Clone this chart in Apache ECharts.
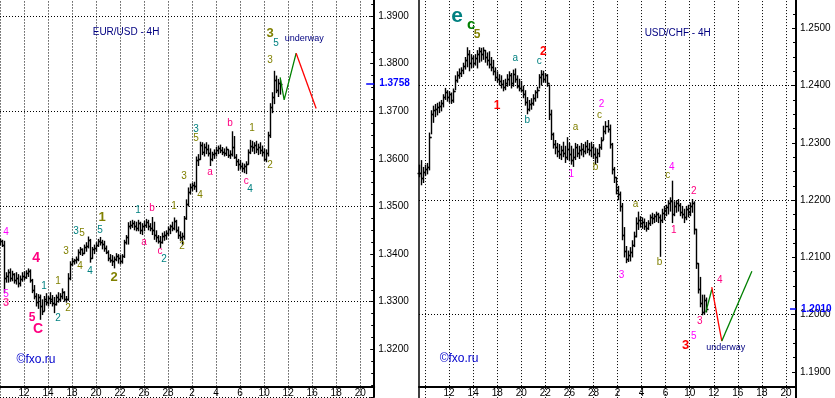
<!DOCTYPE html>
<html>
<head>
<meta charset="utf-8" />
<title>EUR/USD - 4H, USD/CHF - 4H</title>
<script src="https://cdn.jsdelivr.net/npm/echarts@6/dist/echarts.min.js"></script>
<style>
  html, body { margin: 0; padding: 0; background: #fff; }
  #main { width: 835px; height: 398px; }
</style>
</head>
<body>
<div id="main"></div>
<script>
// date labels, one every 12 bars (2 trading days of 4H bars)
var dayLabels = ['', '12', '14', '18', '20', '22', '26', '28', '2', '4', '6', '10', '12', '16', '18', '20'];

// EUR/USD 4H bars, slot 0 .. 140
var eurHigh = [1.3432,1.3430,1.3428,1.3362,1.3368,1.3370,1.3365,1.3360,1.3362,1.3358,
  1.3355,1.3362,1.3364,1.3366,1.3370,1.3368,1.3348,1.3335,1.3318,1.3316,
  1.3315,1.3305,1.3312,1.3318,1.3312,1.3320,1.3314,1.3310,1.3315,1.3320,
  1.3318,1.3328,1.3322,1.3312,1.3360,1.3385,1.3392,1.3390,1.3395,1.3410,
  1.3415,1.3412,1.3420,1.3425,1.3437,1.3432,1.3415,1.3420,1.3425,1.3432,
  1.3436,1.3430,1.3428,1.3418,1.3408,1.3400,1.3398,1.3395,1.3402,1.3400,
  1.3398,1.3400,1.3430,1.3440,1.3467,1.3470,1.3472,1.3470,1.3468,1.3472,
  1.3468,1.3465,1.3470,1.3474,1.3472,1.3465,1.3478,1.3468,1.3450,1.3440,
  1.3438,1.3445,1.3448,1.3450,1.3458,1.3462,1.3468,1.3477,1.3472,1.3458,
  1.3448,1.3445,1.3480,1.3515,1.3540,1.3548,1.3550,1.3552,1.3605,1.3610,
  1.3636,1.3635,1.3632,1.3635,1.3630,1.3622,1.3615,1.3620,1.3625,1.3628,
  1.3630,1.3625,1.3622,1.3626,1.3620,1.3618,1.3658,1.3648,1.3610,1.3600,
  1.3598,1.3592,1.3590,1.3595,1.3620,1.3640,1.3638,1.3635,1.3638,1.3632,
  1.3635,1.3628,1.3622,1.3620,1.3657,1.3717,1.3740,1.3785,1.3775,1.3768,
  1.3765];
var eurLow = [1.3418,1.3415,1.3318,1.3340,1.3340,1.3342,1.3343,1.3338,1.3336,1.3330,
  1.3332,1.3342,1.3345,1.3348,1.3352,1.3340,1.3318,1.3305,1.3290,1.3285,
  1.3262,1.3272,1.3280,1.3292,1.3290,1.3295,1.3290,1.3276,1.3292,1.3298,
  1.3300,1.3305,1.3300,1.3298,1.3302,1.3345,1.3375,1.3378,1.3380,1.3385,
  1.3398,1.3396,1.3400,1.3405,1.3412,1.3382,1.3390,1.3400,1.3405,1.3415,
  1.3418,1.3410,1.3405,1.3400,1.3385,1.3382,1.3375,1.3370,1.3385,1.3380,
  1.3378,1.3380,1.3392,1.3420,1.3420,1.3452,1.3455,1.3450,1.3448,1.3448,
  1.3442,1.3440,1.3448,1.3455,1.3450,1.3448,1.3440,1.3430,1.3425,1.3422,
  1.3413,1.3422,1.3428,1.3430,1.3438,1.3442,1.3448,1.3450,1.3445,1.3432,
  1.3428,1.3420,1.3430,1.3472,1.3500,1.3525,1.3532,1.3535,1.3530,1.3585,
  1.3598,1.3608,1.3605,1.3610,1.3605,1.3585,1.3595,1.3600,1.3605,1.3610,
  1.3612,1.3608,1.3605,1.3606,1.3602,1.3600,1.3605,1.3600,1.3585,1.3575,
  1.3578,1.3572,1.3570,1.3568,1.3588,1.3610,1.3615,1.3610,1.3612,1.3608,
  1.3610,1.3605,1.3595,1.3593,1.3605,1.3644,1.3696,1.3715,1.3738,1.3730,
  1.3735];
var eurClose = [1.3428,1.3420,1.3350,1.3355,1.3362,1.3350,1.3358,1.3345,1.3350,1.3340,
  1.3348,1.3355,1.3352,1.3360,1.3365,1.3345,1.3325,1.3312,1.3300,1.3310,
  1.3290,1.3280,1.3305,1.3300,1.3308,1.3305,1.3298,1.3295,1.3310,1.3305,
  1.3312,1.3320,1.3306,1.3305,1.3350,1.3380,1.3385,1.3388,1.3390,1.3405,
  1.3410,1.3402,1.3415,1.3418,1.3430,1.3392,1.3410,1.3412,1.3420,1.3428,
  1.3425,1.3422,1.3412,1.3405,1.3392,1.3388,1.3385,1.3390,1.3395,1.3392,
  1.3385,1.3395,1.3425,1.3435,1.3460,1.3462,1.3465,1.3458,1.3455,1.3465,
  1.3450,1.3458,1.3462,1.3468,1.3458,1.3455,1.3450,1.3440,1.3435,1.3428,
  1.3425,1.3438,1.3440,1.3445,1.3452,1.3458,1.3455,1.3470,1.3450,1.3440,
  1.3435,1.3438,1.3475,1.3505,1.3530,1.3540,1.3545,1.3542,1.3598,1.3600,
  1.3630,1.3615,1.3625,1.3620,1.3612,1.3600,1.3610,1.3612,1.3618,1.3622,
  1.3618,1.3615,1.3612,1.3620,1.3608,1.3610,1.3625,1.3605,1.3595,1.3590,
  1.3585,1.3580,1.3585,1.3590,1.3615,1.3628,1.3625,1.3630,1.3620,1.3625,
  1.3618,1.3615,1.3600,1.3612,1.3650,1.3710,1.3730,1.3765,1.3745,1.3760,
  1.3758];

// USD/CHF 4H bars, slot -3 .. 140
var chfFirst = -3;
var chfHigh = [1.2262,1.2270,1.2258,
  1.2262,1.2265,1.2318,1.2357,1.2365,1.2368,1.2370,1.2372,1.2375,1.2385,
  1.2396,1.2392,1.2390,1.2388,1.2395,1.2418,1.2425,1.2430,1.2432,1.2440,
  1.2450,1.2467,1.2462,1.2455,1.2452,1.2455,1.2462,1.2467,1.2466,1.2467,
  1.2462,1.2458,1.2460,1.2450,1.2445,1.2432,1.2425,1.2420,1.2418,1.2410,
  1.2412,1.2420,1.2425,1.2422,1.2428,1.2430,1.2418,1.2412,1.2408,1.2400,
  1.2392,1.2380,1.2375,1.2378,1.2385,1.2392,1.2398,1.2420,1.2427,1.2426,
  1.2422,1.2420,1.2402,1.2358,1.2318,1.2305,1.2300,1.2298,1.2295,1.2302,
  1.2295,1.2310,1.2300,1.2295,1.2290,1.2300,1.2298,1.2295,1.2300,1.2298,
  1.2302,1.2305,1.2300,1.2302,1.2298,1.2292,1.2290,1.2298,1.2310,1.2330,
  1.2338,1.2340,1.2332,1.2300,1.2258,1.2240,1.2225,1.2215,1.2195,1.2153,
  1.2120,1.2112,1.2118,1.2130,1.2145,1.2170,1.2180,1.2172,1.2170,1.2168,
  1.2162,1.2165,1.2175,1.2178,1.2176,1.2180,1.2178,1.2175,1.2185,1.2190,
  1.2192,1.2200,1.2205,1.2234,1.2198,1.2200,1.2202,1.2195,1.2190,1.2185,
  1.2190,1.2192,1.2196,1.2202,1.2198,1.2150,1.2090,1.2066,1.2035,1.2035,
  1.2030];
var chfLow = [1.2240,1.2226,1.2230,
  1.2242,1.2245,1.2252,1.2315,1.2335,1.2345,1.2348,1.2352,1.2355,1.2362,
  1.2375,1.2372,1.2370,1.2368,1.2370,1.2392,1.2405,1.2412,1.2415,1.2420,
  1.2428,1.2432,1.2425,1.2430,1.2432,1.2435,1.2430,1.2440,1.2442,1.2445,
  1.2440,1.2435,1.2430,1.2425,1.2418,1.2408,1.2405,1.2400,1.2395,1.2390,
  1.2392,1.2398,1.2400,1.2395,1.2398,1.2405,1.2395,1.2390,1.2388,1.2378,
  1.2365,1.2350,1.2355,1.2358,1.2365,1.2372,1.2378,1.2395,1.2400,1.2405,
  1.2405,1.2398,1.2340,1.2305,1.2290,1.2280,1.2275,1.2272,1.2270,1.2275,
  1.2265,1.2270,1.2268,1.2262,1.2258,1.2270,1.2275,1.2272,1.2278,1.2275,
  1.2280,1.2282,1.2278,1.2275,1.2272,1.2262,1.2265,1.2275,1.2288,1.2305,
  1.2315,1.2318,1.2290,1.2245,1.2230,1.2210,1.2200,1.2180,1.2130,1.2100,
  1.2090,1.2092,1.2093,1.2100,1.2118,1.2135,1.2148,1.2152,1.2150,1.2148,
  1.2145,1.2148,1.2155,1.2158,1.2160,1.2162,1.2160,1.2101,1.2160,1.2165,
  1.2172,1.2175,1.2180,1.2160,1.2172,1.2178,1.2180,1.2172,1.2168,1.2160,
  1.2165,1.2170,1.2172,1.2178,1.2140,1.2080,1.2037,1.2013,1.1999,1.2000,
  1.2004];
var chfClose = [1.2248,1.2238,1.2250,
  1.2255,1.2258,1.2310,1.2350,1.2358,1.2360,1.2362,1.2365,1.2370,1.2380,
  1.2388,1.2380,1.2385,1.2375,1.2390,1.2410,1.2418,1.2422,1.2428,1.2435,
  1.2445,1.2455,1.2440,1.2448,1.2440,1.2448,1.2455,1.2460,1.2455,1.2462,
  1.2450,1.2445,1.2438,1.2432,1.2425,1.2415,1.2412,1.2408,1.2402,1.2398,
  1.2405,1.2412,1.2418,1.2405,1.2420,1.2412,1.2400,1.2395,1.2392,1.2385,
  1.2372,1.2360,1.2368,1.2370,1.2378,1.2388,1.2392,1.2415,1.2420,1.2412,
  1.2418,1.2405,1.2350,1.2315,1.2298,1.2292,1.2285,1.2280,1.2288,1.2282,
  1.2275,1.2290,1.2280,1.2270,1.2275,1.2292,1.2282,1.2288,1.2290,1.2285,
  1.2295,1.2290,1.2288,1.2292,1.2280,1.2275,1.2282,1.2292,1.2305,1.2320,
  1.2330,1.2325,1.2298,1.2255,1.2240,1.2218,1.2210,1.2190,1.2140,1.2112,
  1.2098,1.2105,1.2110,1.2122,1.2138,1.2160,1.2165,1.2160,1.2162,1.2155,
  1.2152,1.2160,1.2170,1.2168,1.2172,1.2175,1.2170,1.2165,1.2178,1.2182,
  1.2188,1.2195,1.2198,1.2175,1.2190,1.2195,1.2192,1.2180,1.2175,1.2170,
  1.2185,1.2180,1.2190,1.2195,1.2150,1.2090,1.2045,1.2020,1.2005,1.2025,
  1.2010];

// wave counts and notes: [slot, price, text, style]
var eurMarks = [
  [135, 1.3864, '3', 'O'], [138, 1.3843, '5', 't'], [135, 1.3808, '3', 'o'],
  [98, 1.3663, '3', 't'], [98, 1.3643, '5', 'o'], [115, 1.3675, 'b', 'p'],
  [126, 1.3664, '1', 'o'], [105, 1.3571, 'a', 'p'], [123, 1.3554, 'c', 'p'],
  [125, 1.3537, '4', 't'], [135, 1.3586, '2', 'o'], [92, 1.3563, '3', 'o'],
  [100, 1.3524, '4', 'o'], [3, 1.3446, '4', 'm'], [3, 1.3316, '5', 'm'],
  [3, 1.3298, '3', 'm2'], [18, 1.3391, '4', 'P'], [16, 1.3267, '5', 'Ps'],
  [19, 1.3242, 'C', 'P'], [22, 1.3333, '1', 't'], [29, 1.3344, '1', 'o'],
  [29, 1.3265, '2', 't'], [34, 1.3287, '2', 'o'], [33, 1.3407, '3', 'o'],
  [38, 1.3449, '3', 't'], [41, 1.3444, '5', 'o'], [40, 1.3375, '4', 'o'],
  [45, 1.3365, '4', 't'], [50, 1.3451, '5', 't'], [51, 1.3477, '1', 'O'],
  [57, 1.3351, '2', 'O'], [69, 1.3493, '1', 't'], [76, 1.3496, 'b', 'p'],
  [87, 1.3500, '1', 'o'], [72, 1.3425, 'a', 'p'], [80, 1.3405, 'c', 'p'],
  [82, 1.3389, '2', 't'], [91, 1.3417, '2', 'o'],
  [63, 1.3867, 'EUR/USD - 4H', 'n'], [152, 1.3852, 'underway', 'u'],
  [18, 1.3179, '©fxo.ru', 'f']
];
var chfMarks = [
  [16, 1.2522, 'e', 'T'], [23, 1.2506, 'c', 'g'], [26, 1.2489, '5', 'O2'],
  [45, 1.2448, 'a', 't'], [59, 1.2460, '2', 'r'], [57, 1.2442, 'c', 't'],
  [36, 1.2365, '1', 'r'], [51, 1.2339, 'b', 't'], [75, 1.2328, 'a', 'o'],
  [87, 1.2349, 'c', 'o'], [88, 1.2367, '2', 'm'], [73, 1.2245, '1', 'm'],
  [85, 1.2257, 'b', 'o'], [121, 1.2243, 'c', 'o'], [123, 1.2258, '4', 'm'],
  [134, 1.2215, '2', 'p'], [105, 1.2193, 'a', 'o'], [124, 1.2148, '1', 'p'],
  [117, 1.2092, 'b', 'o'], [98, 1.2069, '3', 'm'], [147, 1.2061, '4', 'p'],
  [137, 1.1989, '3', 'p'], [134, 1.1962, '5', 'm'], [130, 1.1946, '3', 'R'],
  [126, 1.2491, 'USD/CHF - 4H', 'n'], [150, 1.1942, 'underway', 'u'],
  [17, 1.1924, '©fxo.ru', 'f']
];

// projected paths [slot, price]
var eurWaveUp = [[140, 1.3771], [142, 1.3724], [148, 1.3822]];
var eurWaveDown = [[148, 1.3822], [158, 1.3706]];
var chfWaveUp1 = [[140, 1.2004], [143, 1.2044]];
var chfWaveDown = [[143, 1.2048], [148, 1.1954]];
var chfWaveUp2 = [[148, 1.1954], [163, 1.2076]];

var FONT = "'Liberation Sans', Arial, sans-serif";
var AXIS_FONT = "'Liberation Sans Narrow', 'Liberation Sans', Arial, sans-serif";
var markStyles = {
  o: { color: '#808000', font: '10px ' + FONT },
  O: { color: '#808000', font: 'bold 13px ' + FONT },
  O2: { color: '#808000', font: 'bold 12px ' + FONT },
  t: { color: '#008080', font: '10px ' + FONT },
  T: { color: '#008080', font: 'bold 21px ' + FONT },
  m: { color: '#FF00FF', font: '10px ' + FONT },
  m2: { color: '#FF3399', font: 'bold 11px ' + FONT },
  p: { color: '#FF0080', font: '10px ' + FONT },
  P: { color: '#FF0080', font: 'bold 14px ' + FONT },
  Ps: { color: '#FF0080', font: 'bold 12px ' + FONT },
  r: { color: '#FF0000', font: 'bold 12px ' + FONT },
  R: { color: '#FF0000', font: 'bold 13px ' + FONT },
  g: { color: '#008000', font: 'bold 15px ' + FONT },
  n: { color: '#000080', font: '10px ' + FONT },
  u: { color: '#000080', font: '9px ' + FONT },
  f: { color: '#0000CC', font: '12px ' + FONT }
};

function slotNames(first, last) {
  var out = [];
  for (var s = first; s <= last; s++) out.push(String(s));
  return out;
}

function ohlcData(high, low, close) {
  return close.map(function (c, i) {
    var o = i > 0 ? close[i - 1] : c;
    return [i, o, high[i], low[i], c];
  });
}

function renderBar(params, api) {
  var x = api.value(0);
  var hi = api.coord([x, api.value(2)]);
  var lo = api.coord([x, api.value(3)]);
  var op = api.coord([x, api.value(1)]);
  var cl = api.coord([x, api.value(4)]);
  var cx = Math.round(hi[0]) + 0.5;
  var oy = Math.round(op[1]) + 0.5;
  var cy = Math.round(cl[1]) + 0.5;
  var st = { stroke: '#000', lineWidth: 1.4 };
  return {
    type: 'group',
    children: [
      { type: 'line', shape: { x1: cx, y1: hi[1], x2: cx, y2: lo[1] }, style: st },
      { type: 'line', shape: { x1: cx - 2, y1: oy, x2: cx, y2: oy }, style: st },
      { type: 'line', shape: { x1: cx, y1: cy, x2: cx + 2, y2: cy }, style: st }
    ]
  };
}

function markRenderer(list) {
  return function (params, api) {
    var item = list[params.dataIndex];
    var p = api.coord([api.value(0), api.value(1)]);
    var st = markStyles[item[3]];
    return {
      type: 'text', x: p[0], y: p[1],
      style: { text: item[2], fill: st.color, font: st.font, align: 'center', verticalAlign: 'middle' }
    };
  };
}

function shift(list, off) {
  return list.map(function (d) { return [d[0] - off, d[1]]; });
}

function xAxisFor(grid, first, last, offset) {
  return {
    type: 'category', gridIndex: grid, boundaryGap: false,
    data: slotNames(first, last), offset: offset,
    axisLine: { lineStyle: { color: '#000', width: 2 } },
    axisTick: { show: false },
    axisLabel: {
      interval: function (i, v) { return +v % 12 === 0; },
      formatter: function (v) { var s = +v; return s > 0 && s % 12 === 0 ? (dayLabels[s / 12] || '') : ''; },
      color: '#000', fontSize: 10, fontFamily: AXIS_FONT, margin: 2
    },
    splitLine: {
      show: true,
      interval: function (i, v) { return +v % 12 === 0; },
      lineStyle: { color: '#000', width: 1, type: [1, 2] }
    }
  };
}

function priceAxis(grid, min, max) {
  return {
    type: 'value', gridIndex: grid, position: 'right', min: min, max: max, interval: 0.01,
    axisLine: { show: true, lineStyle: { color: '#000', width: 2 } },
    axisTick: { show: true, inside: true, length: 4, lineStyle: { color: '#000' } },
    minorTick: { show: true, splitNumber: 4, length: 3, lineStyle: { color: '#000' } },
    axisLabel: {
      formatter: function (v) { return v.toFixed(4); }, showMinLabel: false, showMaxLabel: false,
      color: '#000', fontSize: 10, fontFamily: AXIS_FONT, margin: 4
    },
    splitLine: { show: false }
  };
}

function gridAxis(grid, min, max, border) {
  return {
    type: 'value', gridIndex: grid, position: 'left', min: min, max: max, interval: 0.02,
    axisLine: { show: border, lineStyle: { color: '#000', width: 1.5 } },
    axisTick: { show: false }, axisLabel: { show: false },
    splitLine: { show: true, lineStyle: { color: '#000', width: 1, type: [1, 2] } }
  };
}

function lastPriceLine(fromIdx, toIdx, price) {
  return {
    silent: true, symbol: ['none', 'none'], animation: false,
    lineStyle: { color: '#0000FF', width: 1.5, type: 'solid' },
    label: { show: true, position: 'end', formatter: price.toFixed(4), color: '#0000FF', fontWeight: 'bold', fontSize: 10, fontFamily: FONT, distance: 5 },
    data: [[{ coord: [fromIdx, price] }, { coord: [toIdx, price] }]]
  };
}

function wave(xi, yi, pts, color) {
  return {
    type: 'line', xAxisIndex: xi, yAxisIndex: yi, data: pts, symbol: 'none', silent: true, z: 4,
    lineStyle: { color: color, width: 1.3, type: 'solid' }
  };
}

var eurLastSlot = 187, chfLastSlot = 185;
var chart = echarts.init(document.getElementById('main'), null, { renderer: 'canvas' });

var option = {
  animation: false,
  backgroundColor: '#fff',
  grid: [
    { left: 0, top: -31.56, width: 374.2, height: 428.5, containLabel: false, outerBoundsMode: 'none' },
    { left: 419, top: -28.92, width: 377, height: 458.16, containLabel: false, outerBoundsMode: 'none' }
  ],
  xAxis: [
    xAxisFor(0, 0, eurLastSlot, -10.4),
    xAxisFor(1, chfFirst, chfLastSlot, -42.5)
  ],
  yAxis: [
    priceAxis(0, 1.31, 1.40),
    gridAxis(0, 1.31, 1.40, false),
    priceAxis(1, 1.18, 1.26),
    gridAxis(1, 1.18, 1.26, true)
  ],
  series: [
    {
      type: 'custom', xAxisIndex: 0, yAxisIndex: 0, z: 3,
      renderItem: renderBar, encode: { x: 0, y: [1, 2, 3, 4] },
      data: ohlcData(eurHigh, eurLow, eurClose),
      markLine: lastPriceLine(183, eurLastSlot, eurClose[eurClose.length - 1])
    },
    {
      type: 'custom', xAxisIndex: 1, yAxisIndex: 2, z: 3,
      renderItem: renderBar, encode: { x: 0, y: [1, 2, 3, 4] },
      data: ohlcData(chfHigh, chfLow, chfClose),
      markLine: lastPriceLine(182 - chfFirst, chfLastSlot - chfFirst, chfClose[chfClose.length - 1])
    },
    wave(0, 0, eurWaveUp, '#008000'),
    wave(0, 0, eurWaveDown, '#FF0000'),
    wave(1, 2, shift(chfWaveUp1, chfFirst), '#008000'),
    wave(1, 2, shift(chfWaveDown, chfFirst), '#FF0000'),
    wave(1, 2, shift(chfWaveUp2, chfFirst), '#008000'),
    {
      type: 'custom', xAxisIndex: 0, yAxisIndex: 0, z: 5, silent: true,
      renderItem: markRenderer(eurMarks),
      data: eurMarks.map(function (m) { return [m[0], m[1]]; })
    },
    {
      type: 'custom', xAxisIndex: 1, yAxisIndex: 2, z: 5, silent: true,
      renderItem: markRenderer(chfMarks),
      data: chfMarks.map(function (m) { return [m[0] - chfFirst, m[1]]; })
    }
  ]
};

chart.setOption(option);
</script>
</body>
</html>
